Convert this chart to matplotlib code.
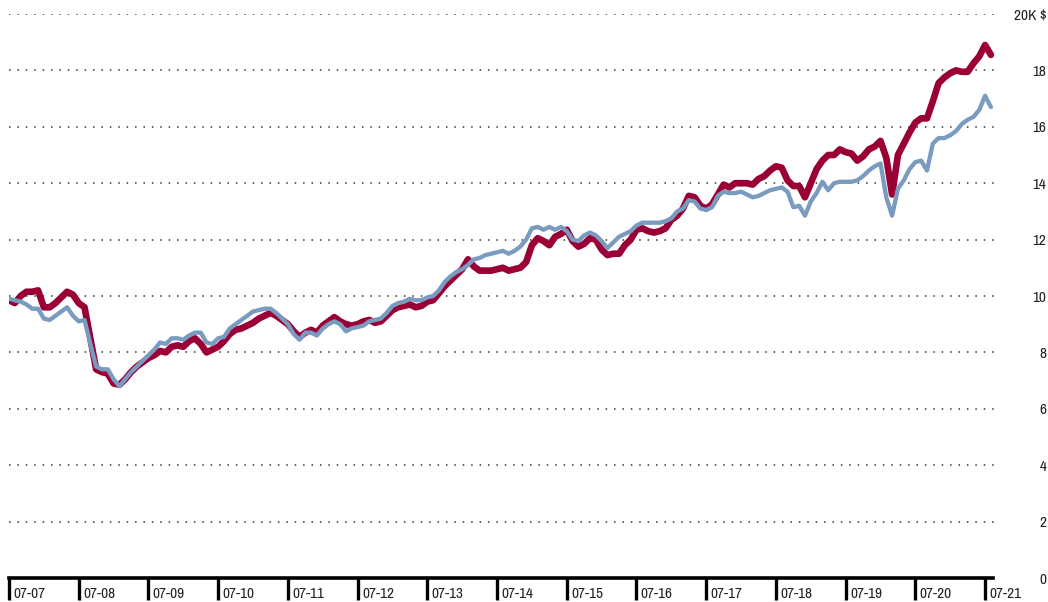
import numpy as np
import matplotlib
matplotlib.use('Agg')
import matplotlib.pyplot as plt

# monthly values, Jul 2007 .. Aug 2021 (thousand $)
fund=[9.85,9.75,10.0,10.15,10.15,10.2,9.6,9.6,9.75,9.95,10.15,10.05,
      9.75,9.6,8.5,7.4,7.3,7.25,6.9,6.85,7.05,7.3,7.5,7.65,
      7.8,7.9,8.05,8.0,8.2,8.25,8.2,8.4,8.5,8.3,8.0,8.1,
      8.2,8.4,8.65,8.8,8.85,8.95,9.05,9.2,9.3,9.4,9.3,9.15,
      9.0,8.75,8.55,8.7,8.8,8.7,8.95,9.1,9.25,9.1,9.0,8.95,
      9.0,9.1,9.15,9.05,9.1,9.3,9.5,9.6,9.65,9.7,9.6,9.65,
      9.8,9.85,10.1,10.35,10.55,10.75,10.95,11.3,11.05,10.9,10.9,10.9,
      10.95,11.0,10.9,10.95,11.0,11.2,11.8,12.05,11.95,11.8,12.1,12.2,
      12.35,11.95,11.75,11.85,12.05,12.0,11.65,11.45,11.5,11.5,11.8,12.0,
      12.35,12.4,12.3,12.25,12.3,12.4,12.7,12.85,13.1,13.55,13.5,13.2,
      13.1,13.25,13.6,13.95,13.85,14.0,14.0,14.0,13.95,14.15,14.25,14.45,
      14.6,14.55,14.1,13.9,13.9,13.5,14.0,14.5,14.8,15.0,15.0,15.2,
      15.1,15.05,14.8,14.95,15.2,15.3,15.5,14.9,13.6,15.0,15.4,15.8,
      16.15,16.3,16.3,16.9,17.55,17.75,17.9,18.0,17.95,17.95,18.25,18.5,
      18.9,18.55]
bench=[9.9,9.85,9.8,9.7,9.55,9.55,9.2,9.15,9.3,9.45,9.6,9.3,
       9.1,9.15,8.3,7.5,7.4,7.4,7.05,6.8,7.05,7.3,7.5,7.7,
       7.9,8.1,8.35,8.3,8.5,8.5,8.45,8.6,8.7,8.7,8.35,8.3,
       8.5,8.55,8.85,9.0,9.15,9.3,9.45,9.5,9.55,9.55,9.4,9.2,
       9.0,8.65,8.45,8.7,8.7,8.6,8.85,9.0,9.1,9.0,8.75,8.85,
       8.9,8.95,9.1,9.15,9.2,9.4,9.65,9.75,9.8,9.9,9.85,9.85,
       9.95,10.0,10.2,10.5,10.7,10.85,10.95,11.1,11.3,11.35,11.45,11.5,
       11.55,11.6,11.5,11.6,11.75,12.0,12.4,12.45,12.35,12.45,12.35,12.45,
       12.3,12.0,11.95,12.15,12.25,12.15,11.95,11.7,11.9,12.1,12.2,12.3,
       12.5,12.6,12.6,12.6,12.6,12.65,12.75,13.0,13.1,13.4,13.35,13.1,
       13.05,13.15,13.55,13.7,13.65,13.65,13.7,13.6,13.5,13.55,13.65,13.75,
       13.8,13.85,13.7,13.15,13.2,12.85,13.35,13.65,14.05,13.75,14.0,14.05,
       14.05,14.05,14.1,14.25,14.45,14.6,14.7,13.5,12.85,13.8,14.1,14.5,
       14.75,14.8,14.45,15.4,15.6,15.6,15.7,15.85,16.1,16.25,16.35,16.6,
       17.1,16.7]
tick_labels=['07-07','07-08','07-09','07-10','07-11','07-12','07-13','07-14',
             '07-15','07-16','07-17','07-18','07-19','07-20','07-21']
y_ticks=[0,2,4,6,8,10,12,14,16,18,20]
y_labels=['0','2','4','6','8','10','12','14','16','18','20K $']

plt.rcParams['font.family']=['Liberation Sans Narrow','Archivo Narrow','DejaVu Sans']

months=np.arange(len(fund))
fig=plt.figure(figsize=(10.48,6.02),dpi=100)
ax=fig.add_axes([9/1048,24/602,986/1048,564/602])

for y in y_ticks[1:]:
    ax.axhline(y,color='#333333',lw=1.1,ls=(0,(1,4.5)),zorder=1)
ax.plot(months,fund,color='#9a0036',lw=4.8,solid_joinstyle='round',solid_capstyle='round',zorder=3)
ax.plot(months,bench,color='#7a9bc0',lw=3.1,solid_joinstyle='round',solid_capstyle='round',zorder=4)

ax.set_xlim(0,986/5.81)
ax.set_ylim(0,20)
for s in ['top','left','right']:
    ax.spines[s].set_visible(False)
ax.spines['bottom'].set_linewidth(2.6)
ax.spines['bottom'].set_bounds(0,984/5.81)

pos=np.arange(len(tick_labels))*12
ax.set_xticks(pos)
ax.set_xticklabels([])
ax.tick_params(axis='x',direction='out',length=16,width=2.4,color='black')
for p,lab in zip(pos,tick_labels):
    ax.text(p+0.75,-0.016,lab,transform=ax.get_xaxis_transform(),ha='left',va='top',
            fontsize=11,color='#222222')

ax.yaxis.tick_right()
ax.set_yticks(y_ticks)
ax.set_yticklabels(y_labels,fontsize=11,color='#222222',ha='right')
ax.tick_params(axis='y',length=0,pad=37)

fig.savefig('out.png',dpi=100)
